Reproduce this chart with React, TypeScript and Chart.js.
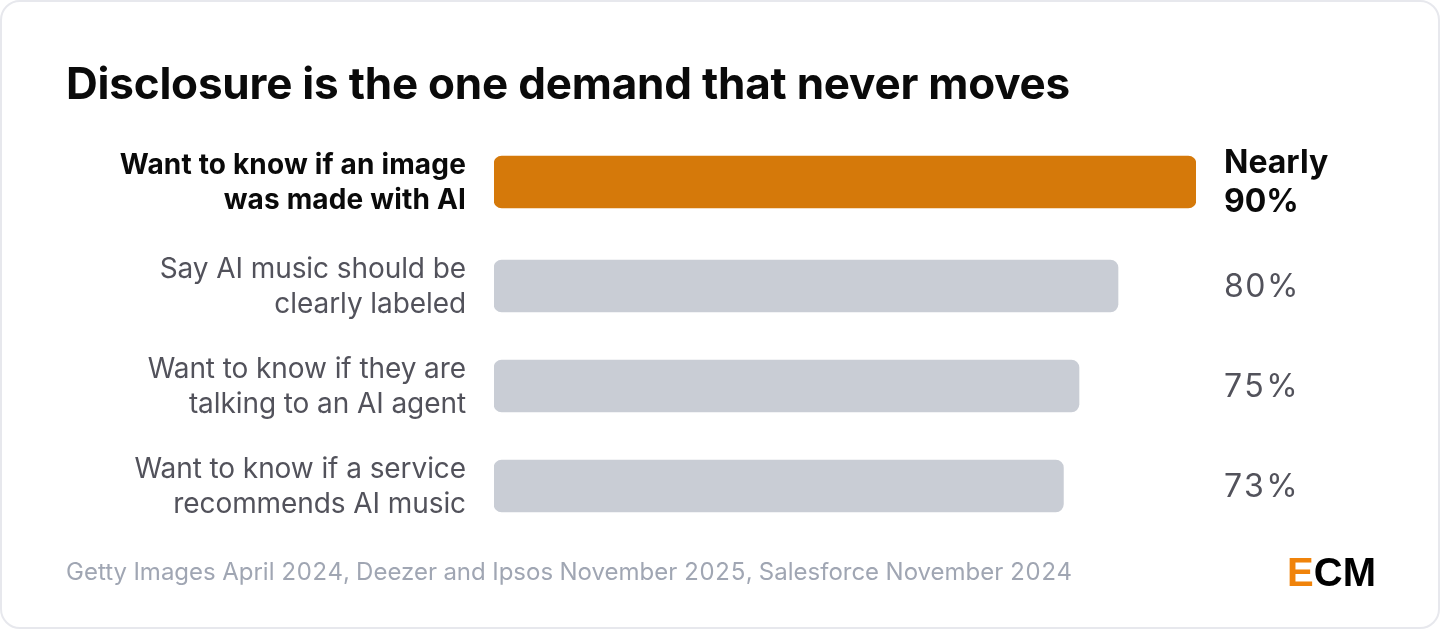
import React, { useEffect, useRef } from "react";
import { Chart, registerables, CategoryScale } from "chart.js";

const title = "Disclosure is the one demand that never moves";
const source = "Getty Images April 2024, Deezer and Ipsos November 2025, Salesforce November 2024";
const categories = [
  ["Want to know if an image", "was made with AI"],
  ["Say AI music should be", "clearly labeled"],
  ["Want to know if they are", "talking to an AI agent"],
  ["Want to know if a service", "recommends AI music"],
];
const values = [90, 80, 75, 73];
const valueLabels = [["Nearly", "90%"], "80%", "75%", "73%"];

const DARK = "#0a0a0a";
const GREY = "#52525b";
const FONT = "Inter";

// the first row of the original sits a little higher than the even spacing
const rowNudge = [-4, 0, 0, 0];
// canvas has no tabular-nums, so the axis text gets per-string tracking instead
const tracking: Record<string, number> = {
  "Want to know if an image": 0.17,
  "was made with AI": 0.17,
  "Nearly": 0,
  "90%": 0,
  "80%": 1.5,
  "75%": 2.5,
  "73%": 2.5,
};

class RowScale extends CategoryScale {
  static id = "rows";
  static defaults = CategoryScale.defaults;
  getPixelForValue(value: number) {
    return super.getPixelForValue(value) + (rowNudge[Math.round(value)] || 0);
  }
  drawLabels(area: any) {
    const ctx = this.ctx as any;
    const fillText = ctx.fillText;
    ctx.save();
    ctx.translate(0, 1);
    ctx.fillText = (text: string, x: number, y: number) => {
      ctx.letterSpacing = `${tracking[text] ?? -0.08}px`;
      fillText.call(ctx, text, x, y);
    };
    (CategoryScale.prototype as any).drawLabels.call(this, area);
    delete ctx.fillText;
    ctx.restore();
  }
}

Chart.register(...registerables, RowScale);

export default function App() {
  const canvasRef = useRef<HTMLCanvasElement>(null);

  useEffect(() => {
    document.body.style.margin = "0";
    const chart = new Chart(canvasRef.current!, {
      type: "bar",
      data: {
        labels: categories,
        datasets: [
          {
            data: values,
            backgroundColor: values.map((_, i) => (i === 0 ? "#d5790a" : "#c9cdd5")),
            borderRadius: 8,
            borderSkipped: false,
            barThickness: 52,
          },
        ],
      },
      options: {
        indexAxis: "y",
        animation: false,
        responsive: false,
        layout: { padding: { left: 66, right: 66, top: 136, bottom: 93 } },
        plugins: {
          legend: { display: false },
          tooltip: { enabled: false },
        },
        scales: {
          x: { display: false, min: 0, max: 90 },
          y: {
            type: "rows" as any,
            offset: true,
            border: { display: false },
            grid: { display: false, drawTicks: false },
            afterFit: (scale: any) => {
              scale.width = 428;
            },
            ticks: {
              autoSkip: false,
              padding: 28,
              color: (ctx: any) => (ctx.index === 0 ? DARK : GREY),
              font: (ctx: any) => ({
                family: FONT,
                size: 28,
                weight: ctx.index === 0 ? "700" : "400",
                lineHeight: 1.25,
              }),
            },
          },
          y2: {
            type: "rows" as any,
            position: "right",
            labels: valueLabels as any,
            offset: true,
            border: { display: false },
            grid: { display: false, drawTicks: false },
            afterFit: (scale: any) => {
              scale.width = 178;
            },
            ticks: {
              autoSkip: false,
              padding: 28,
              color: (ctx: any) => (ctx.index === 0 ? DARK : GREY),
              font: (ctx: any) => ({
                family: FONT,
                size: 32,
                weight: ctx.index === 0 ? "700" : "400",
                lineHeight: 1.2,
              }),
            },
          },
        },
      },
    });
    return () => chart.destroy();
  }, []);

  return (
    <div
      style={{
        position: "relative",
        width: 1440,
        height: 629,
        boxSizing: "border-box",
        background: "#fff",
        border: "2px solid #e7e8ed",
        borderRadius: 20,
      }}
    >
      <canvas ref={canvasRef} width={1440} height={629} style={{ position: "absolute", left: -2, top: -2 }} />
      <div
        style={{
          position: "absolute",
          left: 64,
          top: 54,
          font: `700 44px ${FONT}`,
          lineHeight: "54px",
          letterSpacing: "-0.21px",
          color: DARK,
          whiteSpace: "nowrap",
        }}
      >
        {title}
      </div>
      <div
        style={{
          position: "absolute",
          left: 64,
          top: 555,
          font: `400 24px ${FONT}`,
          lineHeight: "30px",
          fontVariantNumeric: "tabular-nums",
          color: "#a0a6b3",
          whiteSpace: "nowrap",
        }}
      >
        {source}
      </div>
      <div
        style={{
          position: "absolute",
          right: 62,
          top: 545,
          font: "700 40px 'Liberation Sans'",
          lineHeight: "50px",
          color: "#000",
        }}
      >
        <span style={{ color: "#f0830a" }}>E</span>CM
      </div>
    </div>
  );
}
